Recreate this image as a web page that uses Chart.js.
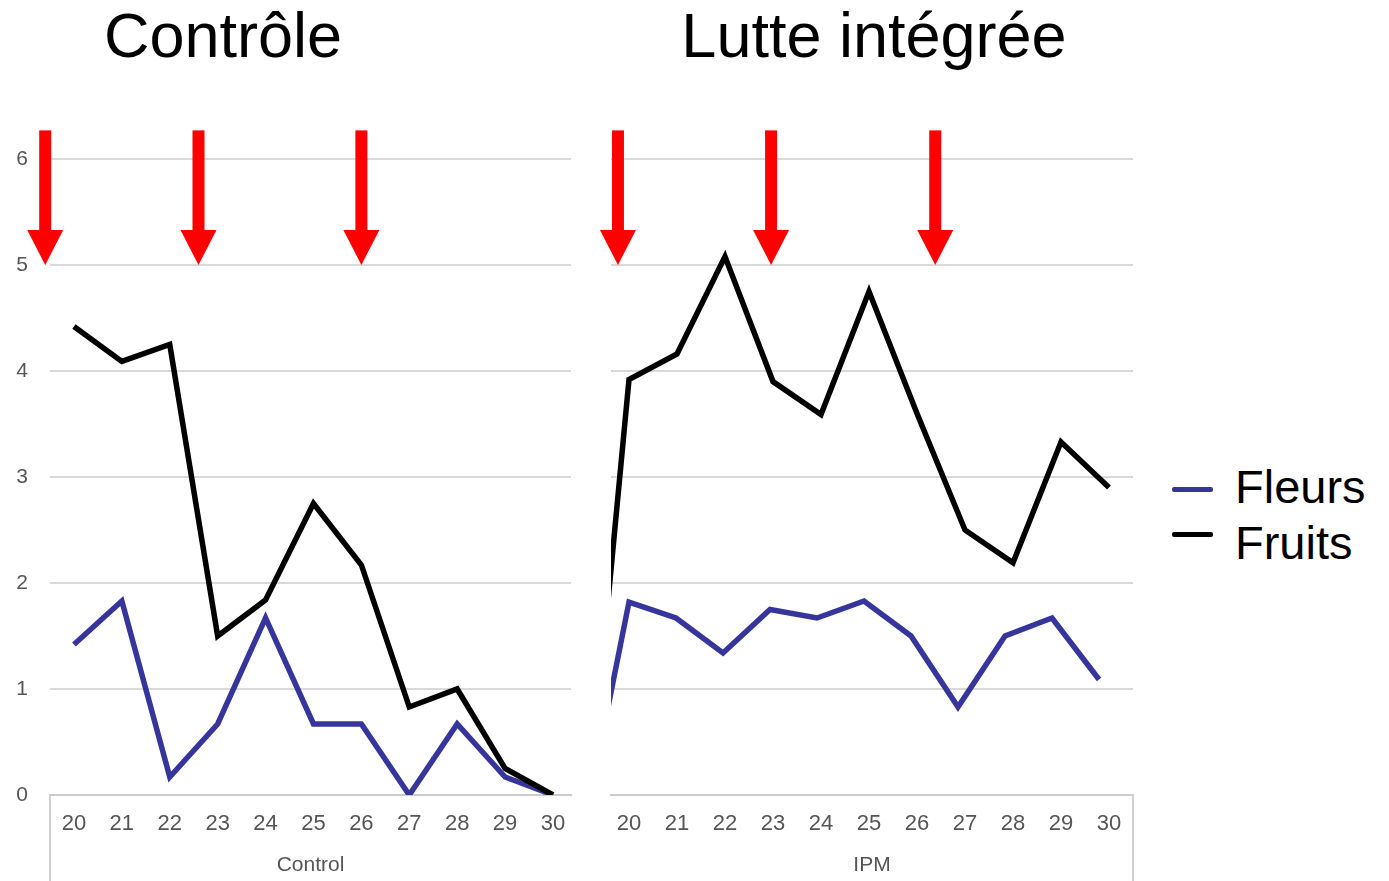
<!DOCTYPE html>
<html>
<head>
<meta charset="utf-8">
<script src="https://cdn.jsdelivr.net/npm/chart.js@4.4.1/dist/chart.umd.min.js"></script>
<style>
  body { margin: 0; background: #fff; font-family: "Liberation Sans", Arial, sans-serif; }
  #page { position: relative; width: 1389px; height: 881px; overflow: hidden; }
  .title { position: absolute; top: 4px; font-size: 63px; line-height: 1; color: #000; white-space: nowrap; transform: translateX(-50%); }
  .box { position: absolute; top: 0; height: 881px; }
  .legend { position: absolute; left: 1172px; font-size: 47px; line-height: 1; color: #000; }
  .legend .row { position: absolute; left: 0; white-space: nowrap; }
  .legend .mark { position: absolute; left: 0; width: 41px; height: 5px; border-radius: 2px; }
  .legend .txt { position: absolute; left: 63px; }
</style>
</head>
<body>
<div id="page">
  <div class="title" style="left:223px">Contrôle</div>
  <div class="title" style="left:874px">Lutte intégrée</div>

  <div class="box" style="left:0;width:600px"><canvas id="controlChart"></canvas></div>
  <div class="box" style="left:570px;width:570px"><canvas id="ipmChart"></canvas></div>

  <div class="legend" style="top:0">
    <div class="row"><div class="mark" id="mkFleurs" style="top:487px"></div><div class="txt" style="top:463px">Fleurs</div></div>
    <div class="row"><div class="mark" id="mkFruits" style="top:532px"></div><div class="txt" style="top:519px">Fruits</div></div>
  </div>
</div>

<script>
// days (x categories), same for both groups
const days = [20, 21, 22, 23, 24, 25, 26, 27, 28, 29, 30];

// Control group
const fleursControl = [1.42, 1.83, 0.17, 0.67, 1.67, 0.67, 0.67, 0, 0.67, 0.17, 0];
const fruitsControl = [4.42, 4.09, 4.25, 1.5, 1.84, 2.75, 2.17, 0.83, 1, 0.25, 0];

// IPM group
const fleursIPM = [1.82, 1.67, 1.34, 1.75, 1.67, 1.83, 1.5, 0.83, 1.5, 1.67, 1.09];
const fruitsIPM = [3.92, 4.16, 5.08, 3.9, 3.59, 4.75, 3.6, 2.5, 2.19, 3.33, 2.9];

// treatment arrows (day position)
const arrowsControl = [19.4, 22.6, 26.0];
const arrowsIPM = [19.77, 22.96, 26.38];

// where the previous group's last day sits on the IPM axis (line comes in from the left)
const leadDay = 19.18;

const yTicks = [0, 1, 2, 3, 4, 5, 6];

const blue = '#35359b';
const black = '#000000';
const tickColor = '#555555';
const fontFamily = '"Liberation Sans", Arial, sans-serif';

Chart.defaults.font.family = fontFamily;
document.getElementById('mkFleurs').style.background = blue;
document.getElementById('mkFruits').style.background = black;

function points(vals) { return days.map((d, i) => ({ x: d, y: vals[i] })); }
function withLead(prev, vals) { return [{ x: leadDay, y: prev[prev.length - 1] }].concat(points(vals)); }

// separator under the axis + red arrows
const panelDecor = {
    id: 'panelDecor',
    afterDraw(chart, args, opts) {
        const { ctx, chartArea, scales } = chart;
        ctx.save();
        ctx.strokeStyle = '#cfcfcf';
        ctx.lineWidth = 2;
        const sx = opts.side === 'left' ? chartArea.left : chartArea.right;
        ctx.beginPath(); ctx.moveTo(sx, chartArea.bottom); ctx.lineTo(sx, chart.height); ctx.stroke();

        ctx.fillStyle = '#ff0000';
        const yTip = scales.y.getPixelForValue(5);
        const yTop = scales.y.getPixelForValue(6.27);
        opts.arrows.forEach(v => {
            const x = scales.x.getPixelForValue(v);
            ctx.fillRect(x - 6, yTop, 12, yTip - 35 - yTop);
            ctx.beginPath();
            ctx.moveTo(x - 18, yTip - 35);
            ctx.lineTo(x + 18, yTip - 35);
            ctx.lineTo(x, yTip);
            ctx.closePath();
            ctx.fill();
        });
        ctx.restore();
    }
};

function lineDs(label, data, color, order, extra) {
    return Object.assign({
        label, data, borderColor: color, backgroundColor: color,
        borderWidth: 5.5, pointRadius: 0, tension: 0, order, borderJoinStyle: 'miter'
    }, extra || {});
}

function xAxis(min, max, title, display) {
    return {
        type: 'linear', min, max, bounds: 'data', display,
        afterBuildTicks: s => { s.ticks = days.map(d => ({ value: d })); },
        afterFit: s => { s.height = display ? 86 : 0; },
        grid: { display: false, drawTicks: false },
        border: { display: true, color: '#cccccc', width: 2 },
        ticks: { color: tickColor, font: { size: 22 }, padding: 16, maxRotation: 0, autoSkip: false },
        title: { display: true, text: title, color: tickColor, font: { size: 21 }, padding: { top: 0, bottom: 3 } }
    };
}

function yAxis(showLabels) {
    return {
        min: 0, max: 6,
        afterBuildTicks: s => { s.ticks = yTicks.map(v => ({ value: v })); },
        afterFit: s => { s.width = showLabels ? 50 : 0; },
        grid: { color: '#d9d9d9', lineWidth: 2, drawTicks: false },
        border: { display: false },
        ticks: { display: showLabels, color: tickColor, font: { size: 21 }, padding: 22 }
    };
}

const common = {
    responsive: true,
    maintainAspectRatio: false,
    animation: false,
    events: [],
};

new Chart(document.getElementById('controlChart'), {
    type: 'line',
    data: {
        datasets: [
            lineDs('Fleurs', points(fleursControl), blue, 1),
            lineDs('Fruits', points(fruitsControl), black, 0)
        ]
    },
    options: Object.assign({}, common, {
        layout: { padding: { top: 159, left: 0, right: 29, bottom: 0 } },
        scales: { x: xAxis(19.5, 30.376, 'Control', true), y: yAxis(true) },
        plugins: { legend: { display: false }, tooltip: { enabled: false }, panelDecor: { side: 'left', arrows: arrowsControl } }
    }),
    plugins: [panelDecor]
});

const cut = { left: 0, top: 10, right: 10, bottom: 10 };
const xf = xAxis(19.617, 30.723, '', false);

new Chart(document.getElementById('ipmChart'), {
    type: 'line',
    data: {
        datasets: [
            lineDs('Fleurs', withLead(fleursControl, fleursIPM), blue, 1, { xAxisID: 'xf', clip: cut }),
            lineDs('Fruits', withLead(fruitsControl, fruitsIPM), black, 0, { xAxisID: 'x', clip: cut })
        ]
    },
    options: Object.assign({}, common, {
        layout: { padding: { top: 159, left: 41, right: 7, bottom: 0 } },
        scales: { x: xAxis(19.625, 30.5, 'IPM', true), xf: xf, y: yAxis(false) },
        plugins: { legend: { display: false }, tooltip: { enabled: false }, panelDecor: { side: 'right', arrows: arrowsIPM } }
    }),
    plugins: [panelDecor]
});
</script>
</body>
</html>
